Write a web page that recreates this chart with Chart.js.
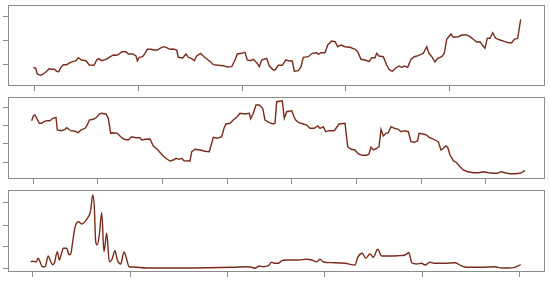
<!DOCTYPE html>
<html>
<head>
<meta charset="utf-8">
<script src="https://cdn.jsdelivr.net/npm/chart.js@4/dist/chart.umd.min.js"></script>
<style>
  html, body { margin: 0; padding: 0; background: #fff; }
  #wrap { position: relative; width: 550px; height: 283px; }
  canvas { position: absolute; left: 0; }
</style>
</head>
<body>
<div id="wrap">
  <canvas id="c1" width="550" height="95" style="top:0px"></canvas>
  <canvas id="c2" width="550" height="95" style="top:92px"></canvas>
  <canvas id="c3" width="550" height="98" style="top:185px"></canvas>
</div>
<script>
// panel 1
const x1 = [25.3,27.7,29.3,32.7,35.3,38.7,41,43.7,46.3,48.7,50.7,53,55.3,58.7,62,65.3,68,70.3,73.7,78,81.3,86,88.7,90.7,93.7,98,101.3,105.3,108.7,111.3,113.7,118,120.3,124.7,128,129.3,131.3,134.7,137,139.3,142.7,146,149.3,152,155.3,158.7,162,165.3,168.7,170.3,174.7,178,180.3,183.7,186.3,188.7,192.7,196,199.3,202.7,205.3,210.3,215.3,219.3,223.7,227,229.3,233.7,237,239.3,242.7,245.3,248.7,251.3,253.7,258.7,261.3,265.3,267,270.3,274.3,277.7,282,284.3,286.3,290.3,293,295.3,300.3,304.3,308.7,310.3,313,317,319.7,323.7,327,329.7,333,337,342,347,349.7,353,357,361,363.7,367,368.7,371,375.3,378.7,381,384.3,387.7,391,393.7,396.3,399.7,403,406.3,410.3,415.3,418.7,421,424.3,427,429.7,433.7,436.3,438.7,443,445.3,450.3,453.7,458.7,462,465.3,468.7,472,474.3,477,479.3,482,484.7,487.7,492,497,500.3,503.7,506.3,509.7,512.7];
const y1 = [18.7,17.7,12,10.7,12,14.7,17.3,16.7,16.7,14.7,14.3,18.7,21.3,21.3,23.3,24.7,25.3,28.3,26,25.3,21,20.7,26,27.3,25.3,26.7,28.7,31,30.7,32,34.3,34.3,32,32,30,25.3,28.7,29.3,32.7,36.7,36.7,36,36,37.7,39.3,38.3,36.7,37,36,28.7,28,32,28.7,27.3,25.3,30,32.7,29.3,26.7,24,21.3,20.7,20.3,19,19.3,26,32,32.7,33.7,26,25.3,26.7,23.3,19.3,26,27.7,20,16,16,20.7,20.7,26,25,25,14.7,15.3,19.3,28.7,29.3,32.7,33.3,31.7,33.3,33.3,41,45,44.3,39.3,41,39.3,38.7,36.7,34.3,26.7,26,24.3,28.3,28.3,32.7,30,29.3,21,16.7,14.7,17.7,20,18.7,20,18.7,26.7,29.3,30.3,32.7,39.3,32.7,28.7,24,27.7,29.3,32.7,46.7,52,48.7,49.3,51,51,49.3,46.7,44,44.3,41,37.7,47.7,47.7,53.3,47.7,46,44.3,43.3,43.3,46.7,47.7,66.7];
const xTicks1 = [26, 130, 234, 337, 441];
const yTicks1 = [22, 45.3, 70];

// panel 2
const x2 = [23.7,25.3,27,29.3,31.3,33.7,36,38.7,42,44.7,48,49.3,53.7,57,58.7,62.7,67,70.3,72.7,77,79.3,81.3,85.3,88.7,91.3,93.7,98,100.3,102.7,105.3,109.3,112.7,116,120.3,123.7,128,132,133.7,138,142,145.3,149.3,152.7,156,159.3,162,165.3,168,171.3,173.7,176,182,183.7,187,192,197,201.3,205.3,209.3,213.7,216,218,222,225.3,228.7,232,237,241.3,242.7,245.3,248,251.3,254.7,257,261.3,265.3,267,268.7,274.3,276.3,278.7,283.7,286,287.7,291,295.3,298.7,302,306.3,309.7,312,315.3,317.7,321,326.3,331,337,339.7,343,347,350.3,354.3,358.7,361,363,365.3,368.7,371,373,375.3,378,380.3,383,386.3,390.3,393,396.3,400.3,403,406.3,409.7,411,415.3,418.7,421,423.7,427,430.3,433,435.3,437.7,439.7,442,445.3,448.7,452,455.3,459.7,465.3,471,475.3,480.3,485.3,489.7,493,497,502,507,512,515.3,517];
const y2 = [58.3,63,64,59.7,55.7,55.7,57.3,58.3,58.3,60.7,61.7,49,48.3,49.7,51.3,48.3,47.7,46.3,49,50.7,54,59,59.7,61.7,65,65.7,65,60.7,45.7,46.3,45.7,42.3,39.7,39,42.3,41.3,41.3,39,39.7,40,33,29.7,25.7,22.3,19.7,18,19,20.7,19.7,20.7,18.3,18,27.3,29.7,29,27.7,27.3,41.7,40.7,42.3,50.7,55,55.7,59,61.7,65.7,65,65.7,60.3,65.7,74,74,70.7,59,56.3,55,55.7,77.3,78.3,60.7,67.3,68.3,62.3,59,56.3,55,54,50.7,50.7,53,50.7,52.3,47.3,48.3,48.3,55,55.7,32.3,29.7,29,25,23.7,23.7,25,31.7,29,30.7,32.3,49.7,43,45.7,46.3,52.3,50.7,49.7,47.3,48.3,47.3,37.3,36.7,38.3,45.7,45,44,41.7,40.7,39,37.3,29,30.7,33,31.7,24,18.3,16.3,12.3,9,7.3,6.3,6.3,7.3,6.3,5.7,5.7,7.3,6.3,5.3,5.3,5.7,7.3,8.3];
const xTicks2 = [25, 89, 154, 219, 283, 348, 413, 477];
const yTicks2 = [17, 35.7, 53.7, 72];

// panel 3
const x3 = [22.7,25.3,28,30.3,32,34.3,37,40.3,42.7,44.7,46.3,49.3,51.3,53.7,55.3,58.7,61,62.7,64.7,67,70.3,73.7,76,78.7,81.3,82.7,84.7,86.3,87.7,89.3,91.3,93.7,96,98.7,101.3,103.7,107,109.3,112.7,116,118.7,121,125.3,138.7,172,225.3,238.7,243.7,247,251.3,255.3,260.3,263.7,267,270.3,273.7,278.7,283.7,290.3,298.7,303.7,308.7,312,315.3,325.3,337,347,349.7,354.3,357.7,362,365.3,369.7,373.7,380.3,390.3,397,401,403.7,408.7,413.7,417,422,427,437,447,453.7,458.7,473.7,487,493.7,500.3,507,512.7];
const y3 = [10.3,10.7,10,13.7,10.3,5.3,5.3,16,10.3,7.3,8.7,20.3,12,19.3,23.7,23.7,17.3,18,30.3,44.7,50.3,48,49.3,52.7,57,62,77,65.3,30.3,27,37,59.3,20.3,38.7,10.3,12,21.3,12,8,20,12.7,5.3,5,4,4,4.7,5.3,4.7,3.7,6,5.3,6.3,9.7,8.7,8.7,11.3,12,12,12,12.7,12,10.3,12.7,10,9.3,8.7,7,14.7,18.7,13.7,18,14.7,22.7,16,16,16.3,17,19.3,9.3,8,8.7,7,9.7,8.7,8.7,9.3,6,4.7,4.7,5.3,4,4,4.7,7.3];
const xTicks3 = [24, 122, 219, 316, 414, 511];
const yTicks3 = [3.7, 25.3, 47, 69.3];

const lineColor = '#7a2c1c';
const frameColor = '#8c8c8c';

const framePlugin = {
    id: 'frame',
    afterDraw(chart) {
        const a = chart.chartArea;
        const c = chart.ctx;
        c.save();
        c.strokeStyle = frameColor;
        c.lineWidth = 1;
        c.strokeRect(a.left + 0.5, a.top + 0.5, a.right - a.left - 1, a.bottom - a.top - 1);
        c.restore();
    }
};

function makePanel(id, xs, ys, xTicks, yTicks, yMax, padBottom, smooth) {
    const pts = xs.map((x, i) => ({ x: x, y: ys[i] }));
    return new Chart(document.getElementById(id), {
        type: 'line',
        data: {
            datasets: [{
                data: pts,
                borderColor: lineColor,
                borderWidth: 1.4,
                pointRadius: 0,
                tension: smooth ? 0.4 : 0,
                cubicInterpolationMode: smooth ? 'monotone' : 'default',
                fill: false
            }]
        },
        options: {
            responsive: false,
            animation: false,
            events: [],
            layout: { padding: { left: 3, right: 5, top: 5, bottom: padBottom } },
            plugins: { legend: { display: false }, tooltip: { enabled: false } },
            scales: {
                x: {
                    type: 'linear',
                    min: 0,
                    max: 537,
                    afterBuildTicks: s => { s.ticks = xTicks.map(v => ({ value: v })); },
                    ticks: { display: false },
                    grid: { drawOnChartArea: false, drawTicks: true, tickLength: 5, color: frameColor },
                    border: { display: false }
                },
                y: {
                    min: 0,
                    max: yMax,
                    afterBuildTicks: s => { s.ticks = yTicks.map(v => ({ value: v })); },
                    ticks: { display: false },
                    grid: { drawOnChartArea: false, drawTicks: true, tickLength: 5, color: frameColor },
                    border: { display: false }
                }
            }
        },
        plugins: [framePlugin]
    });
}

makePanel('c1', x1, y1, xTicks1, yTicks1, 81, 4, false);
makePanel('c2', x2, y2, xTicks2, yTicks2, 82, 3, false);
makePanel('c3', x3, y3, xTicks3, yTicks3, 82, 6, true);
</script>
</body>
</html>
